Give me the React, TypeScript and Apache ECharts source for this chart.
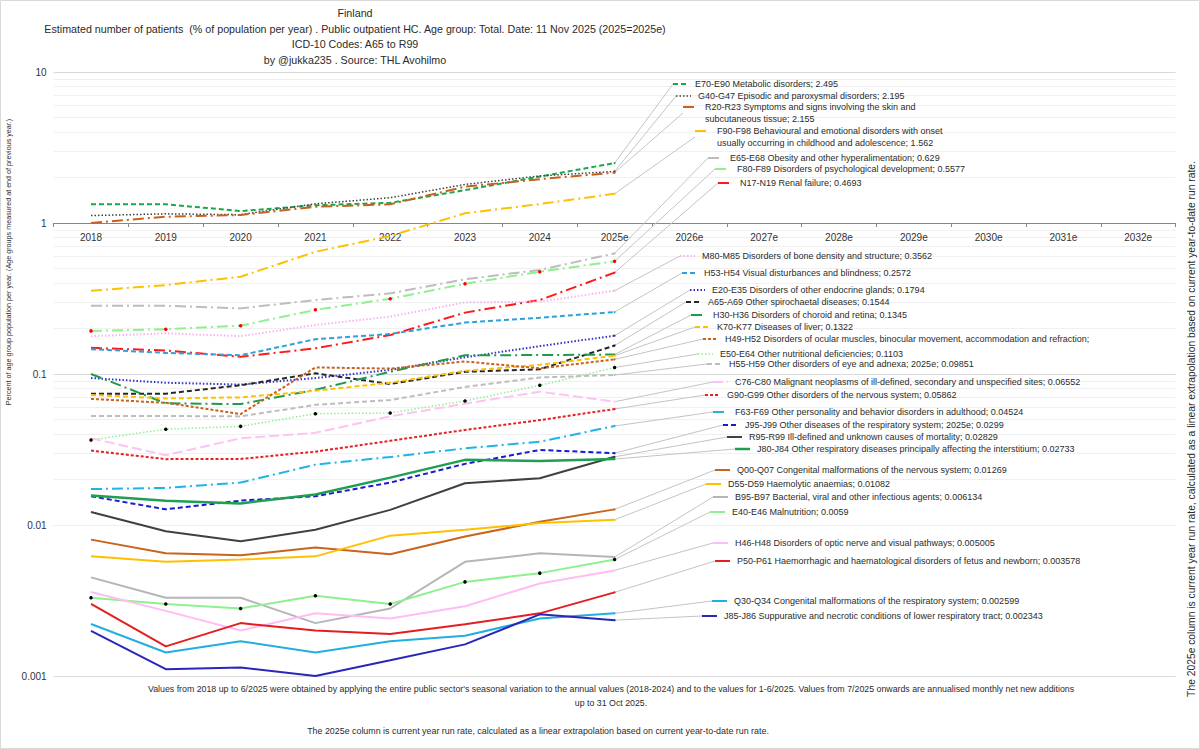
import React, { useEffect, useRef } from "react";
import * as echarts from "echarts";

const FONT = "Liberation Sans";

const categories = ["2018", "2019", "2020", "2021", "2022", "2023", "2024", "2025e", "2026e", "2027e", "2028e", "2029e", "2030e", "2031e", "2032e"];
const yTickLabels = ["0.001", "0.01", "0.1", "1", "10"];

const vE70 = [1.33, 1.33, 1.2, 1.31, 1.36, 1.65, 2.03, 2.495];
const vG40 = [1.12, 1.15, 1.135, 1.34, 1.47, 1.8, 2.05, 2.195];
const vR20 = [1.0, 1.1, 1.13, 1.28, 1.33, 1.74, 1.95, 2.155];
const vF90 = [0.356, 0.388, 0.441, 0.645, 0.82, 1.16, 1.336, 1.562];
const vE65 = [0.283, 0.283, 0.272, 0.309, 0.342, 0.424, 0.489, 0.629];
const vF80 = [0.193, 0.198, 0.209, 0.266, 0.315, 0.396, 0.476, 0.5577];
const vN17 = [0.149, 0.143, 0.13, 0.148, 0.181, 0.255, 0.309, 0.4693];
const vM80 = [0.178, 0.186, 0.178, 0.211, 0.24, 0.298, 0.301, 0.3562];
const vH53 = [0.146, 0.138, 0.133, 0.17, 0.184, 0.219, 0.236, 0.2572];
const vE20 = [0.094, 0.0875, 0.0851, 0.094, 0.1065, 0.129, 0.153, 0.1794];
const vA65 = [0.0741, 0.0741, 0.0843, 0.101, 0.0858, 0.1034, 0.1075, 0.1544];
const vH30 = [0.1, 0.064, 0.0632, 0.0786, 0.1034, 0.133, 0.1335, 0.1345];
const vK70 = [0.0727, 0.0689, 0.07, 0.0775, 0.0875, 0.105, 0.115, 0.1322];
const vH49 = [0.0684, 0.0645, 0.0543, 0.1105, 0.1086, 0.121, 0.109, 0.125];
const vE50 = [0.0366, 0.0431, 0.045, 0.0546, 0.0552, 0.0663, 0.0841, 0.1103];
const vH55 = [0.0527, 0.0527, 0.0524, 0.0625, 0.0672, 0.0821, 0.0948, 0.09851];
const vC76 = [0.0375, 0.029, 0.0375, 0.0408, 0.0524, 0.0636, 0.0764, 0.06552];
const vG90 = [0.0311, 0.0273, 0.0274, 0.0306, 0.0361, 0.0426, 0.0495, 0.05862];
const vF63 = [0.0173, 0.0176, 0.0191, 0.0251, 0.0282, 0.0322, 0.0356, 0.04524];
const vJ95 = [0.0155, 0.0127, 0.0145, 0.0155, 0.0191, 0.0254, 0.0314, 0.0299];
const vR95 = [0.0122, 0.0091, 0.0078, 0.0093, 0.0126, 0.0189, 0.0204, 0.02829];
const vJ80 = [0.0157, 0.0145, 0.0139, 0.0159, 0.0206, 0.027, 0.0265, 0.02733];
const vQ00 = [0.008, 0.0065, 0.0063, 0.0071, 0.0064, 0.0084, 0.0105, 0.01269];
const vD55 = [0.0062, 0.0057, 0.0059, 0.0062, 0.0085, 0.0093, 0.0103, 0.01082];
const vB95 = [0.0045, 0.0033, 0.0033, 0.00224, 0.0028, 0.0057, 0.0065, 0.006134];
const vE40 = [0.0033, 0.003, 0.0028, 0.0034, 0.003, 0.0042, 0.0048, 0.0059];
const vH46 = [0.0036, 0.0027, 0.002, 0.0026, 0.0024, 0.0029, 0.0041, 0.005005];
const vP50 = [0.003, 0.00157, 0.00224, 0.002, 0.0019, 0.0022, 0.0026, 0.003578];
const vQ30 = [0.00221, 0.00143, 0.0017, 0.00143, 0.0017, 0.00185, 0.0024, 0.002599];
const vJ85 = [0.00199, 0.00111, 0.00114, 0.001, 0.00127, 0.00162, 0.00256, 0.002343];

const seriesValues = [vE70, vG40, vR20, vF90, vE65, vF80, vN17, vM80, vH53, vE20, vA65, vH30, vK70, vH49, vE50, vH55, vC76, vG90, vF63, vJ95, vR95, vJ80, vQ00, vD55, vB95, vE40, vH46, vP50, vQ30, vJ85];

const seriesLabels = [
  "E70-E90 Metabolic disorders; 2.495",
  "G40-G47 Episodic and paroxysmal disorders; 2.195",
  "R20-R23 Symptoms and signs involving the skin and\nsubcutaneous tissue; 2.155",
  "F90-F98 Behavioural and emotional disorders with onset\nusually occurring in childhood and adolescence; 1.562",
  "E65-E68 Obesity and other hyperalimentation; 0.629",
  "F80-F89 Disorders of psychological development; 0.5577",
  "N17-N19 Renal failure; 0.4693",
  "M80-M85 Disorders of bone density and structure; 0.3562",
  "H53-H54 Visual disturbances and blindness; 0.2572",
  "E20-E35 Disorders of other endocrine glands; 0.1794",
  "A65-A69 Other spirochaetal diseases; 0.1544",
  "H30-H36 Disorders of choroid and retina; 0.1345",
  "K70-K77 Diseases of liver; 0.1322",
  "H49-H52 Disorders of ocular muscles, binocular movement, accommodation and refraction;",
  "E50-E64 Other nutritional deficiencies; 0.1103",
  "H55-H59 Other disorders of eye and adnexa; 2025e; 0.09851",
  "C76-C80 Malignant neoplasms of ill-defined, secondary and unspecified sites; 0.06552",
  "G90-G99 Other disorders of the nervous system; 0.05862",
  "F63-F69 Other personality and behavior disorders in adulthood; 0.04524",
  "J95-J99 Other diseases of the respiratory system; 2025e; 0.0299",
  "R95-R99 Ill-defined and unknown causes of mortality; 0.02829",
  "J80-J84 Other respiratory diseases principally affecting the interstitium; 0.02733",
  "Q00-Q07 Congenital malformations of the nervous system; 0.01269",
  "D55-D59 Haemolytic anaemias; 0.01082",
  "B95-B97 Bacterial, viral and other infectious agents; 0.006134",
  "E40-E46 Malnutrition; 0.0059",
  "H46-H48 Disorders of optic nerve and visual pathways; 0.005005",
  "P50-P61 Haemorrhagic and haematological disorders of fetus and newborn; 0.003578",
  "Q30-Q34 Congenital malformations of the respiratory system; 0.002599",
  "J85-J86 Suppurative and necrotic conditions of lower respiratory tract; 0.002343",
];

// ---- styles & layout (not data) ----
const PATTERNS: Record<string, number[] | null> = {
  solid: null,
  dash: [5, 3],
  sysDash: [3, 2],
  dot: [1.5, 2],
  longDash: [10, 4],
  longDashDot: [11, 4, 2, 4],
};

type St = { color: string; pat: string; w: number; marker?: { color: string; size: number } };
const styles: St[] = [
  { color: "#19A84A", pat: "dash", w: 2 },
  { color: "#404040", pat: "dot", w: 1.5 },
  { color: "#C8601E", pat: "longDashDot", w: 2 },
  { color: "#FFC000", pat: "longDashDot", w: 2 },
  { color: "#BDBDBD", pat: "longDashDot", w: 2 },
  { color: "#8EF08E", pat: "longDashDot", w: 2, marker: { color: "#FF0000", size: 3.5 } },
  { color: "#FF1A1A", pat: "longDashDot", w: 2 },
  { color: "#F8B4EE", pat: "dot", w: 2 },
  { color: "#2EA0DA", pat: "dash", w: 2 },
  { color: "#3030C8", pat: "dot", w: 2 },
  { color: "#262626", pat: "dash", w: 2 },
  { color: "#1E9A4E", pat: "longDashDot", w: 2 },
  { color: "#FFC000", pat: "dash", w: 2 },
  { color: "#C8601E", pat: "sysDash", w: 2 },
  { color: "#8EF08E", pat: "dot", w: 1.5, marker: { color: "#000000", size: 3.5 } },
  { color: "#BDBDBD", pat: "dash", w: 2 },
  { color: "#FFC2F4", pat: "longDash", w: 2 },
  { color: "#E82020", pat: "sysDash", w: 2 },
  { color: "#1FB4E8", pat: "longDashDot", w: 2 },
  { color: "#1A1AD0", pat: "dash", w: 2 },
  { color: "#404040", pat: "solid", w: 2 },
  { color: "#1EA050", pat: "solid", w: 2.5 },
  { color: "#C8641E", pat: "solid", w: 2 },
  { color: "#FFC000", pat: "solid", w: 2 },
  { color: "#B5B5B5", pat: "solid", w: 2 },
  { color: "#8EF08E", pat: "solid", w: 2, marker: { color: "#000000", size: 3.5 } },
  { color: "#FFBDF3", pat: "solid", w: 2 },
  { color: "#E41E1E", pat: "solid", w: 2 },
  { color: "#23AEE0", pat: "solid", w: 2 },
  { color: "#2828B8", pat: "solid", w: 2 },
];

const labelPos: [number, number][] = [
  [673, 84], [676, 96], [683, 113], [695, 137], [708, 158], [715, 169], [718, 183],
  [680, 256], [682, 273], [690, 290], [686, 302], [691, 315], [695, 327], [703, 339],
  [698, 354], [707, 364], [713, 382], [705, 395], [713, 412], [723, 425], [727, 437],
  [735, 449], [715, 470], [706, 484], [713, 497], [710, 512], [713, 543], [715, 561],
  [712, 601], [702, 616],
];

const KEY_W = 15;
const GAP = 7;

function keyTokens(pattern: number[] | null, keyW: number) {
  if (!pattern) return [{ w: keyW, fill: true }];
  const out: { w: number; fill: boolean }[] = [];
  let x = 0;
  let i = 0;
  while (x < keyW - 0.01) {
    const len = Math.min(pattern[i % pattern.length], keyW - x);
    out.push({ w: len, fill: i % 2 === 0 });
    x += len;
    i++;
  }
  return out;
}

function buildSeries() {
  return seriesValues.map((vals, i) => {
    const st = styles[i];
    const pattern = PATTERNS[st.pat];
    const lines = seriesLabels[i].split("\n");
    const rich: any = {
      t: { fontSize: 9, fontFamily: FONT, color: "#2b2b2b", lineHeight: 12, verticalAlign: "middle" },
      sp: { width: GAP, height: 2, verticalAlign: "middle" },
      ind: { width: KEY_W + GAP, height: 2, verticalAlign: "middle" },
    };
    let key = "";
    keyTokens(pattern, KEY_W).forEach((tk) => {
      const nm = (tk.fill ? "f" : "g") + Math.round(tk.w * 10);
      rich[nm] = {
        width: tk.w,
        height: Math.max(1.5, st.w),
        backgroundColor: tk.fill ? st.color : "transparent",
        verticalAlign: "middle",
      };
      key += "{" + nm + "|}";
    });
    const text = key + "{sp|}{t|" + lines[0] + "}" + (lines[1] ? "\n{ind|}{t|" + lines[1] + "}" : "");
    const last = vals.length - 1;
    const data = vals.map((v, j) => {
      if (j === last) return { value: v, symbolSize: st.marker ? st.marker.size : 2, label: { show: true } };
      return st.marker ? v : { value: v, symbol: "none" };
    });
    const lx = labelPos[i][0];
    const ly = labelPos[i][1];
    return {
      type: "line",
      name: lines.join(" "),
      xAxisIndex: 0,
      yAxisIndex: 0,
      data,
      symbol: "circle",
      symbolSize: st.marker ? st.marker.size : 2,
      showSymbol: true,
      itemStyle: { color: st.marker ? st.marker.color : st.color },
      lineStyle: { color: st.color, width: st.w, type: pattern ? pattern : "solid" },
      label: { show: false, formatter: () => text, rich },
      labelLayout: (p: any) => {
        const cx = p.rect.x + p.rect.width / 2;
        const cy = p.rect.y + p.rect.height / 2;
        return {
          x: lx,
          y: ly,
          align: "left",
          verticalAlign: "middle",
          labelLinePoints: [[cx, cy], [lx - 1, ly], [lx - 1, ly]],
        };
      },
      labelLine: { show: true, lineStyle: { color: "#C4C4C4", width: 1 } },
      emphasis: { disabled: true },
      silent: true,
      z: 3,
    };
  });
}

const minorGridValues: number[] = [];
[0.001, 0.01, 0.1, 1].forEach((d) => {
  for (let m = 2; m <= 9; m++) minorGridValues.push(Number((m * d).toPrecision(3)));
});

function txt(text: string, x: number, y: number, size: number, extra: any = {}) {
  return {
    type: "text",
    x,
    y,
    silent: true,
    ...extra,
    style: {
      text,
      fontSize: size,
      fontFamily: FONT,
      fill: "#2b2b2b",
      textAlign: "center",
      align: "center",
      textVerticalAlign: "middle",
      verticalAlign: "middle",
    },
  };
}

function buildOption(): any {
  const gridLeft = 53.6;
  const gridW = 1122;
  return {
    animation: false,
    textStyle: { fontFamily: FONT },
    grid: [
      { left: gridLeft, top: 72, width: gridW, height: 604 },
      { left: gridLeft, top: 72, width: gridW, height: 151 },
    ],
    xAxis: [
      { type: "category", gridIndex: 0, data: categories, boundaryGap: true, show: false },
      {
        type: "category",
        gridIndex: 1,
        data: categories,
        boundaryGap: true,
        axisLine: { lineStyle: { color: "#868686", width: 1 } },
        axisTick: { show: true, length: 4, lineStyle: { color: "#868686" } },
        axisLabel: { fontSize: 10, color: "#333333", margin: 9, interval: 0, fontFamily: FONT },
        splitLine: { show: false },
      },
    ],
    yAxis: [
      {
        type: "log",
        gridIndex: 0,
        logBase: 10,
        min: 0.001,
        max: 10,
        axisLine: { show: false },
        axisTick: { show: false },
        axisLabel: {
          fontSize: 10,
          color: "#333333",
          margin: 7,
          fontFamily: FONT,
          formatter: (v: number) => {
            const s = String(Number(v.toPrecision(4)));
            return yTickLabels.indexOf(s) >= 0 ? s : "";
          },
        },
        splitLine: { show: true, lineStyle: { color: "#D9D9D9", width: 1 } },
      },
      { type: "value", gridIndex: 1, show: false, min: 0, max: 1, splitLine: { show: false } },
    ],
    series: [
      {
        type: "line",
        name: "minor-grid",
        xAxisIndex: 0,
        yAxisIndex: 0,
        data: [],
        silent: true,
        z: 0,
        markLine: {
          z: 0,
          silent: true,
          symbol: ["none", "none"],
          label: { show: false },
          lineStyle: { color: "#F0F0F0", width: 1, type: "solid" },
          emphasis: { disabled: true },
          data: minorGridValues.map((v) => ({ yAxis: v })),
        },
      },
      ...buildSeries(),
    ],
    graphic: [
      { type: "rect", silent: true, z: -10, shape: { x: 0.5, y: 0.5, width: 1199, height: 748 }, style: { fill: "none", stroke: "#D9D9D9", lineWidth: 1 } },
      txt("Finland", 355, 13, 10.7),
      txt("Estimated number of patients  (% of population per year) . Public outpatient HC. Age group: Total. Date: 11 Nov 2025 (2025=2025e)", 355, 28.5, 10.7),
      txt("ICD-10 Codes: A65 to R99", 355, 44, 10.7),
      txt("by @jukka235 . Source: THL Avohilmo", 355, 59.5, 10.7),
      txt("Values from 2018 up to 6/2025 were obtained by applying the entire public sector's seasonal variation to the annual values (2018-2024) and to the values for 1-6/2025. Values from 7/2025 onwards are annualised monthly net new additions", 611, 689, 8.8),
      txt("up to 31 Oct 2025.", 611, 703, 8.8),
      txt("The 2025e column is current year run rate, calculated as a linear extrapolation based on current year-to-date run rate.", 538, 731, 8.9),
      txt("The 2025e column is current year run rate, calculated as a linear extrapolation based on current year-to-date run rate.", 1191, 429, 10.3, { rotation: Math.PI / 2 }),
      txt("Percent of age group population per year. (Age groups measured at end of previous year.)", 8, 262, 7.2, { rotation: Math.PI / 2 }),
    ],
  };
}

export default function App() {
  const ref = useRef<HTMLDivElement>(null);
  useEffect(() => {
    if (!ref.current) return;
    const chart = echarts.init(ref.current, undefined, { renderer: "svg" });
    chart.setOption(buildOption());
    return () => chart.dispose();
  }, []);
  return (
    <div
      ref={ref}
      style={{ position: "fixed", left: 0, top: 0, width: 1200, height: 749, background: "#ffffff" }}
    />
  );
}
